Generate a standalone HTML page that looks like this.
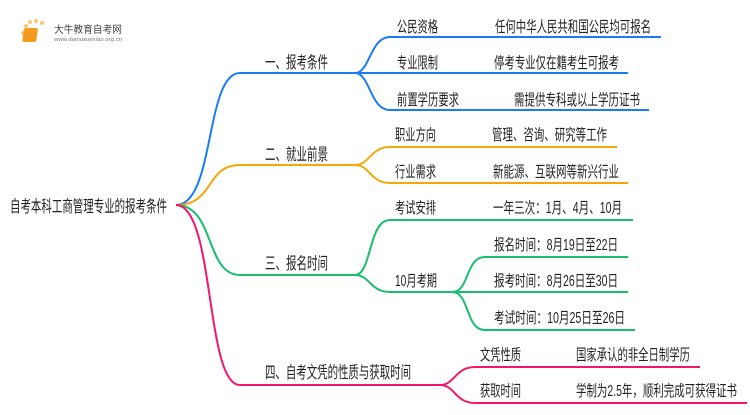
<!DOCTYPE html>
<html><head><meta charset="utf-8"><style>
html,body{margin:0;padding:0;background:#fff;}
svg text{font-family:"Liberation Sans","Noto Sans CJK SC",sans-serif;fill:#222;}
</style></head><body>
<svg width="750" height="410" viewBox="0 0 750 410" xmlns="http://www.w3.org/2000/svg">
<g fill="none" stroke-width="2">
<g stroke="#1a7cf5">
<path d="M176,205 C215,205 205,73 240,73 L355,73"/>
<path d="M355,73 C370,73 370,37 390,37 L661,37"/>
<path d="M355,73 L628,73"/>
<path d="M355,73 C370,73 370,110 390,110 L649,110"/>
</g>
<g stroke="#f5a70a">
<path d="M176,205 C215,205 205,165 240,165 L355,165"/>
<path d="M355,165 C370,165 370,147 390,147 L617,147"/>
<path d="M355,165 C370,165 370,183 390,183 L628,183"/>
</g>
<g stroke="#17bf6c">
<path d="M176,205 C215,205 205,275 240,275 L355,275"/>
<path d="M355,275 C372,275 368,220 390,220 L633,220"/>
<path d="M355,275 C370,275 370,292 390,292 L452,292"/>
<path d="M452,292 C470,292 465,257 485,257 L628,257"/>
<path d="M452,292 L628,292"/>
<path d="M452,292 C470,292 465,330 485,330 L635,330"/>
</g>
<g stroke="#f5146e">
<path d="M176,205 C215,205 205,385 240,385 L440,385"/>
<path d="M440,385 C455,385 455,367 475,367 L700,367"/>
<path d="M440,385 C455,385 455,403 475,403 L747,403"/>
</g>
</g>
<g>
<circle cx="26" cy="26" r="2" fill="#f7c873"/><circle cx="30" cy="22" r="2" fill="#f7c873"/><circle cx="36" cy="21" r="2" fill="#f7c873"/><circle cx="42" cy="23" r="2" fill="#f7c873"/><circle cx="23" cy="33" r="2" fill="#f7c873"/><circle cx="24" cy="40" r="1.5" fill="#f7c873"/>
<rect x="28" y="28" width="14" height="14" rx="2" fill="#f39a1f" transform="skewX(-8)"/>
<text x="54" y="33" font-size="10" textLength="68" lengthAdjust="spacingAndGlyphs" style="fill:#444">大牛教育自考网</text>
<text x="54" y="41" font-size="5.5" textLength="68" lengthAdjust="spacingAndGlyphs" style="fill:#777">www.daniuxuexiao.org.cn</text>
</g>
<g font-size="16.5">
<text x="10" y="212" textLength="157" lengthAdjust="spacingAndGlyphs">自考本科工商管理专业的报考条件</text>
<text x="265" y="68" textLength="63" lengthAdjust="spacingAndGlyphs">一、报考条件</text>
<text x="265" y="160" textLength="63" lengthAdjust="spacingAndGlyphs">二、就业前景</text>
<text x="265" y="269" textLength="63" lengthAdjust="spacingAndGlyphs">三、报名时间</text>
<text x="265" y="378" textLength="146" lengthAdjust="spacingAndGlyphs">四、自考文凭的性质与获取时间</text>
</g>
<g font-size="15.5">
<text x="397" y="32" textLength="41" lengthAdjust="spacingAndGlyphs">公民资格</text><text x="495" y="32" textLength="156" lengthAdjust="spacingAndGlyphs">任何中华人民共和国公民均可报名</text>
<text x="397" y="68" textLength="41" lengthAdjust="spacingAndGlyphs">专业限制</text><text x="494" y="68" textLength="125" lengthAdjust="spacingAndGlyphs">停考专业仅在籍考生可报考</text>
<text x="397" y="105" textLength="62" lengthAdjust="spacingAndGlyphs">前置学历要求</text><text x="514" y="105" textLength="126" lengthAdjust="spacingAndGlyphs">需提供专科或以上学历证书</text>
<text x="395" y="140" textLength="41" lengthAdjust="spacingAndGlyphs">职业方向</text><text x="492" y="140" textLength="115" lengthAdjust="spacingAndGlyphs">管理、咨询、研究等工作</text>
<text x="395" y="177" textLength="41" lengthAdjust="spacingAndGlyphs">行业需求</text><text x="493" y="177" textLength="126" lengthAdjust="spacingAndGlyphs">新能源、互联网等新兴行业</text>
<text x="395" y="213" textLength="41" lengthAdjust="spacingAndGlyphs">考试安排</text><text x="493" y="213" textLength="129" lengthAdjust="spacingAndGlyphs">一年三次：1月、4月、10月</text>
<text x="395" y="286" textLength="42" lengthAdjust="spacingAndGlyphs">10月考期</text>
<text x="494" y="250" textLength="124" lengthAdjust="spacingAndGlyphs">报名时间：8月19日至22日</text>
<text x="494" y="286" textLength="124" lengthAdjust="spacingAndGlyphs">报考时间：8月26日至30日</text>
<text x="494" y="323" textLength="131" lengthAdjust="spacingAndGlyphs">考试时间：10月25日至26日</text>
<text x="480" y="360" textLength="41" lengthAdjust="spacingAndGlyphs">文凭性质</text><text x="576" y="360" textLength="114" lengthAdjust="spacingAndGlyphs">国家承认的非全日制学历</text>
<text x="480" y="396" textLength="41" lengthAdjust="spacingAndGlyphs">获取时间</text><text x="576" y="396" textLength="161" lengthAdjust="spacingAndGlyphs">学制为2.5年，顺利完成可获得证书</text>
</g>
</svg>
</body></html>
